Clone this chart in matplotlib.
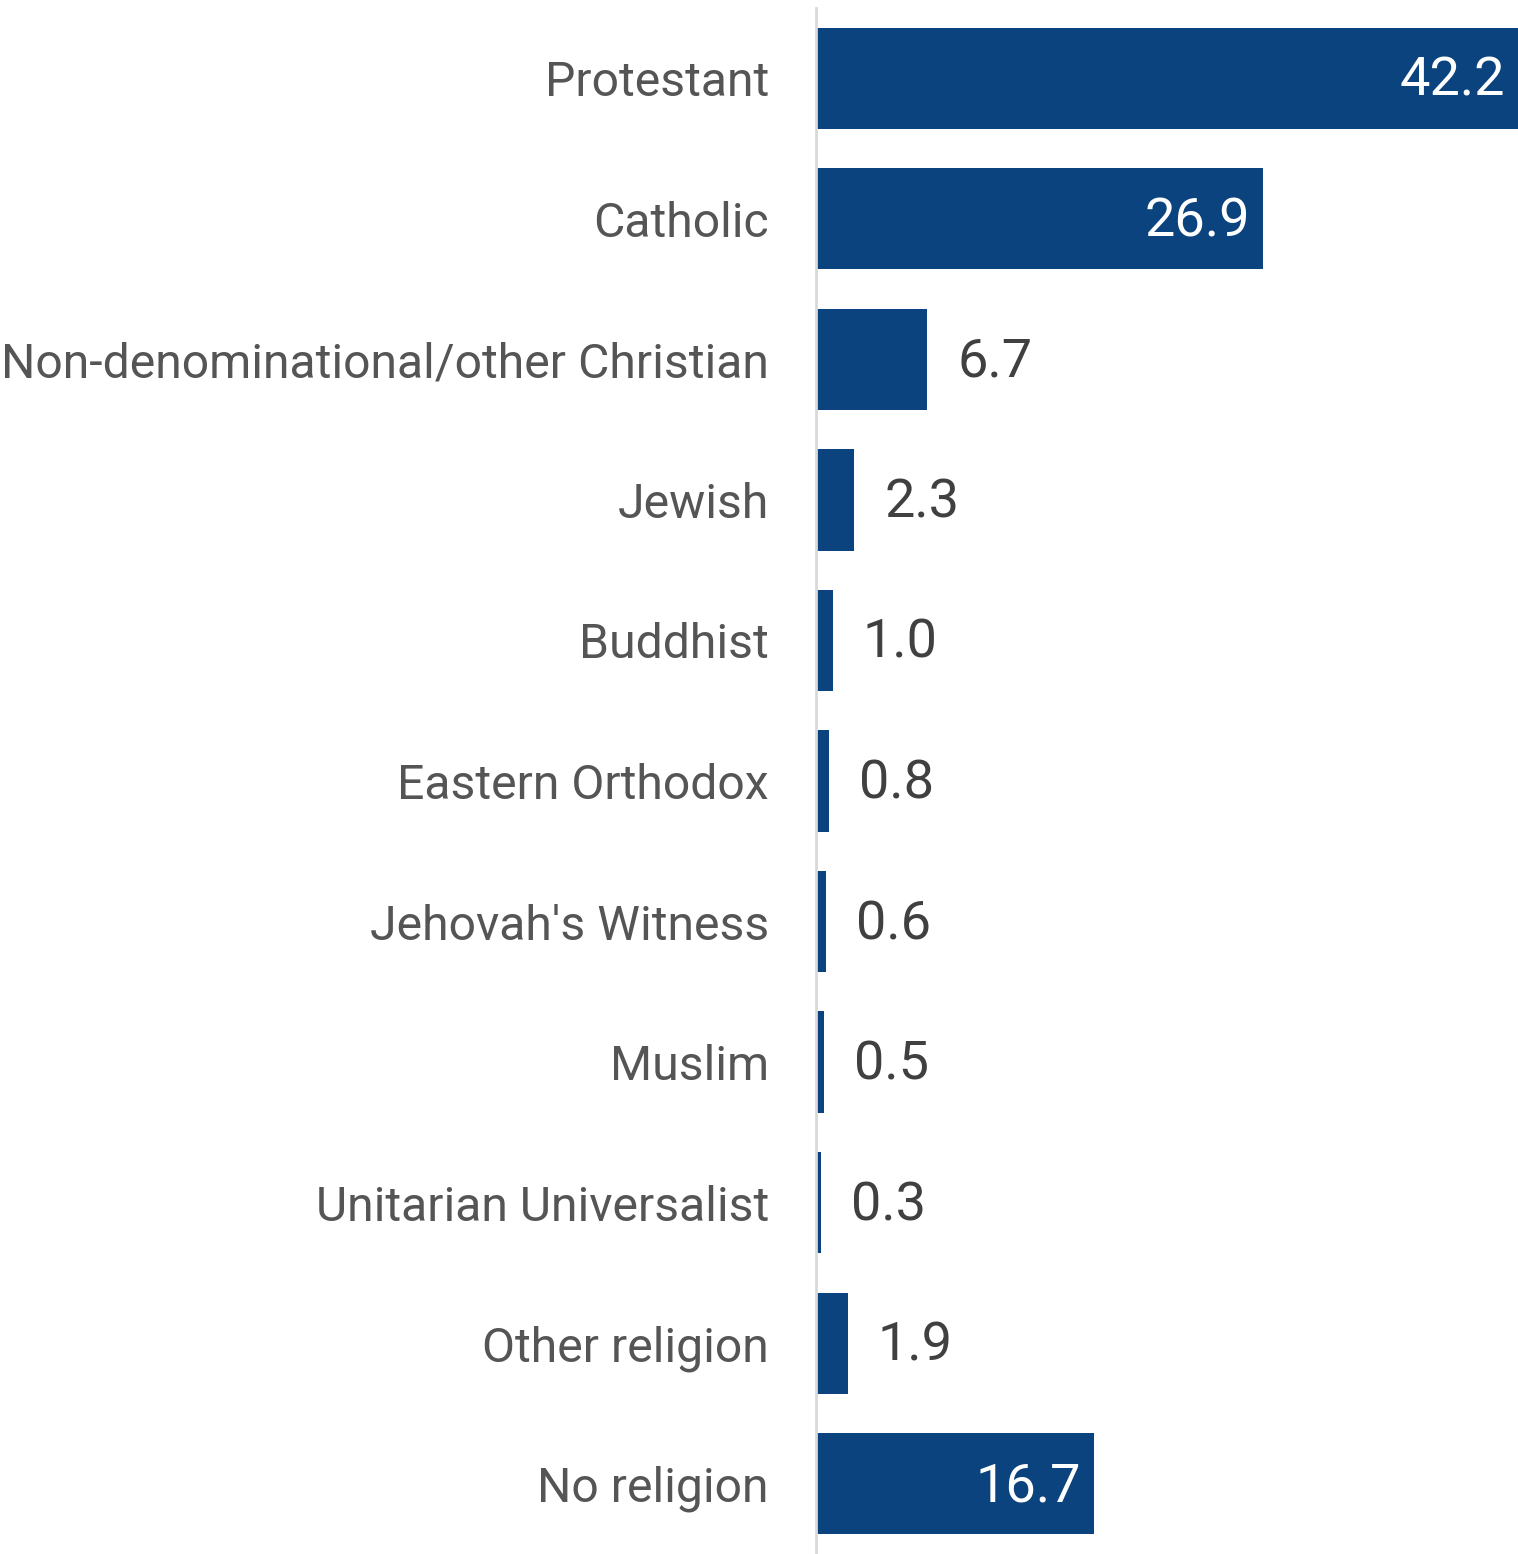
import matplotlib
matplotlib.use("Agg")
import matplotlib.pyplot as plt

plt.rcParams['font.family'] = ['Roboto', 'DejaVu Sans']

religions = ["Protestant", "Catholic", "Non-denominational/other Christian", "Jewish",
             "Buddhist", "Eastern Orthodox", "Jehovah's Witness", "Muslim",
             "Unitarian Universalist", "Other religion", "No religion"]
shares = [42.2, 26.9, 6.7, 2.3, 1.0, 0.8, 0.6, 0.5, 0.3, 1.9, 16.7]

bar_color = "#0a437d"
W, H = 1518, 1554
fig = plt.figure(figsize=(W / 100, H / 100), dpi=100)
ax = fig.add_axes([816 / W, 0, 702 / W, 1546 / H])

pos = list(range(len(religions)))
ax.barh(pos, shares, height=0.72, color=bar_color)
ax.set_xlim(0, max(shares))
ax.set_ylim(len(religions) - 0.5, -0.5)

for spine in ["top", "right", "bottom"]:
    ax.spines[spine].set_visible(False)
ax.spines["left"].set_color("#d9d9d9")
ax.spines["left"].set_linewidth(2)
ax.set_xticks([])
ax.set_yticks(pos)
ax.set_yticklabels(religions, fontsize=34.7, color="#555555")
ax.tick_params(axis="y", length=0, pad=34)

for y, v in zip(pos, shares):
    if v > 10:
        ax.annotate(f"{v:.1f}", (v, y), xytext=(-13, -3), textcoords="offset pixels",
                    ha="right", va="center", fontsize=39, color="white")
    else:
        ax.annotate(f"{v:.1f}", (v, y), xytext=(30, -3), textcoords="offset pixels",
                    ha="left", va="center", fontsize=39, color="#404040")

fig.savefig("out.png", dpi=100)
